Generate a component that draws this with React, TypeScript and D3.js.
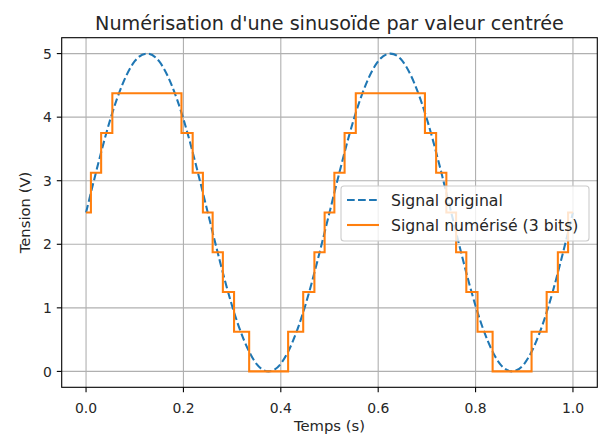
import React from "react";
import * as d3 from "d3";

const timeTicks = [0, 0.2, 0.4, 0.6, 0.8, 1.0];
const tensionTicks = [0, 1, 2, 3, 4, 5];

// Original signal, read every 0.025 s
const originalTimes = [
  0, 0.025, 0.05, 0.075, 0.1, 0.125, 0.15, 0.175, 0.2, 0.225,
  0.25, 0.275, 0.3, 0.325, 0.35, 0.375, 0.4, 0.425, 0.45, 0.475,
  0.5, 0.525, 0.55, 0.575, 0.6, 0.625, 0.65, 0.675, 0.7, 0.725,
  0.75, 0.775, 0.8, 0.825, 0.85, 0.875, 0.9, 0.925, 0.95, 0.975, 1.0,
];
const originalValues = [
  2.5, 3.27, 3.97, 4.52, 4.88, 5.0, 4.88, 4.52, 3.97, 3.27,
  2.5, 1.73, 1.03, 0.48, 0.12, 0.0, 0.12, 0.48, 1.03, 1.73,
  2.5, 3.27, 3.97, 4.52, 4.88, 5.0, 4.88, 4.52, 3.97, 3.27,
  2.5, 1.73, 1.03, 0.48, 0.12, 0.0, 0.12, 0.48, 1.03, 1.73, 2.5,
];

// Digitized signal: level changes (time of change, new level)
const stepTimes = [
  0, 0.01, 0.031, 0.054, 0.196, 0.219, 0.24, 0.26, 0.281, 0.304,
  0.335, 0.415, 0.446, 0.469, 0.49, 0.51, 0.531, 0.554, 0.696, 0.719,
  0.74, 0.76, 0.781, 0.804, 0.835, 0.915, 0.946, 0.969, 0.99, 1.0,
];
const stepLevels = [
  2.5, 3.125, 3.75, 4.375, 3.75, 3.125, 2.5, 1.875, 1.25, 0.625,
  0, 0.625, 1.25, 1.875, 2.5, 3.125, 3.75, 4.375, 3.75, 3.125,
  2.5, 1.875, 1.25, 0.625, 0, 0.625, 1.25, 1.875, 2.5, 2.5,
];

const seriesLabels = ["Signal original", "Signal numérisé (3 bits)"];
const title = "Numérisation d'une sinusoïde par valeur centrée";
const xLabel = "Temps (s)";
const yLabel = "Tension (V)";

export default function App() {
  const W = 603;
  const H = 438;
  const left = 61.7;
  const right = 597.3;
  const top = 37.7;
  const bottom = 387.3;
  const font = "DejaVu Sans, sans-serif";
  const fs = 13.9;
  const labelFs = 14.8;
  const legendFs = 15.7;
  const titleFs = 19.2;

  const x = d3.scaleLinear().domain([-0.05, 1.05]).range([left, right]);
  const y = d3.scaleLinear().domain([-0.25, 5.25]).range([bottom, top]);

  const origPts = originalTimes.map((t, i) => [t, originalValues[i]] as [number, number]);
  const stepPts = stepTimes.map((t, i) => [t, stepLevels[i]] as [number, number]);

  const origLine = d3
    .line<[number, number]>()
    .x((d) => x(d[0]))
    .y((d) => y(d[1]))
    .curve(d3.curveNatural)(origPts);
  const stepLine = d3
    .line<[number, number]>()
    .x((d) => x(d[0]))
    .y((d) => y(d[1]))
    .curve(d3.curveStepAfter)(stepPts);

  const blue = "#1f77b4";
  const orange = "#ff7f0e";
  const lw = 2.08;
  const dash = "7.7,3.33";

  const lgX = 341;
  const lgY = 186;
  const lgW = 248;
  const lgH = 55;

  return (
    <svg
      width={W}
      height={H}
      style={{ position: "absolute", left: 0, top: 0, background: "#fff" }}
      fontFamily={font}
    >
      <rect x={0} y={0} width={W} height={H} fill="#fff" />
      {/* grid */}
      <g stroke="#b0b0b0" strokeWidth={1.1}>
        {timeTicks.map((t) => (
          <line key={"gx" + t} x1={x(t)} x2={x(t)} y1={top} y2={bottom} />
        ))}
        {tensionTicks.map((v) => (
          <line key={"gy" + v} x1={left} x2={right} y1={y(v)} y2={y(v)} />
        ))}
      </g>
      <defs>
        <clipPath id="plotclip">
          <rect x={left} y={top} width={right - left} height={bottom - top} />
        </clipPath>
      </defs>
      <g clipPath="url(#plotclip)">
        <path d={origLine || ""} fill="none" stroke={blue} strokeWidth={lw} strokeDasharray={dash} />
        <path d={stepLine || ""} fill="none" stroke={orange} strokeWidth={lw} strokeLinejoin="miter" />
      </g>
      {/* spines */}
      <rect
        x={left}
        y={top}
        width={right - left}
        height={bottom - top}
        fill="none"
        stroke="#000"
        strokeWidth={1.1}
      />
      {/* x ticks */}
      {timeTicks.map((t) => (
        <g key={"xt" + t}>
          <line x1={x(t)} x2={x(t)} y1={bottom} y2={bottom + 4.9} stroke="#000" strokeWidth={1.1} />
          <text x={x(t)} y={412.7} fontSize={fs} textAnchor="middle" fill="#262626">
            {t.toFixed(1)}
          </text>
        </g>
      ))}
      {/* y ticks */}
      {tensionTicks.map((v) => (
        <g key={"yt" + v}>
          <line x1={left - 4.9} x2={left} y1={y(v)} y2={y(v)} stroke="#000" strokeWidth={1.1} />
          <text x={left - 9.8} y={y(v) + 5.2} fontSize={fs} textAnchor="end" fill="#262626">
            {v}
          </text>
        </g>
      ))}
      {/* labels */}
      <text x={(left + right) / 2} y={431} fontSize={labelFs} textAnchor="middle" fill="#262626">
        {xLabel}
      </text>
      <text
        transform={`translate(30,${(top + bottom) / 2}) rotate(-90)`}
        fontSize={labelFs}
        textAnchor="middle"
        fill="#262626"
      >
        {yLabel}
      </text>
      <text x={(left + right) / 2} y={30} fontSize={titleFs} textAnchor="middle" fill="#262626">
        {title}
      </text>
      {/* legend */}
      <rect
        x={lgX}
        y={lgY}
        width={lgW}
        height={lgH}
        rx={3}
        fill="#fff"
        fillOpacity={0.8}
        stroke="#cccccc"
        strokeWidth={1.1}
      />
      <line x1={347} x2={379} y1={200} y2={200} stroke={blue} strokeWidth={lw} strokeDasharray={dash} />
      <line x1={347} x2={379} y1={225} y2={225} stroke={orange} strokeWidth={lw} />
      <text x={391} y={205.5} fontSize={legendFs} fill="#262626">
        {seriesLabels[0]}
      </text>
      <text x={391} y={230.5} fontSize={legendFs} fill="#262626">
        {seriesLabels[1]}
      </text>
    </svg>
  );
}
